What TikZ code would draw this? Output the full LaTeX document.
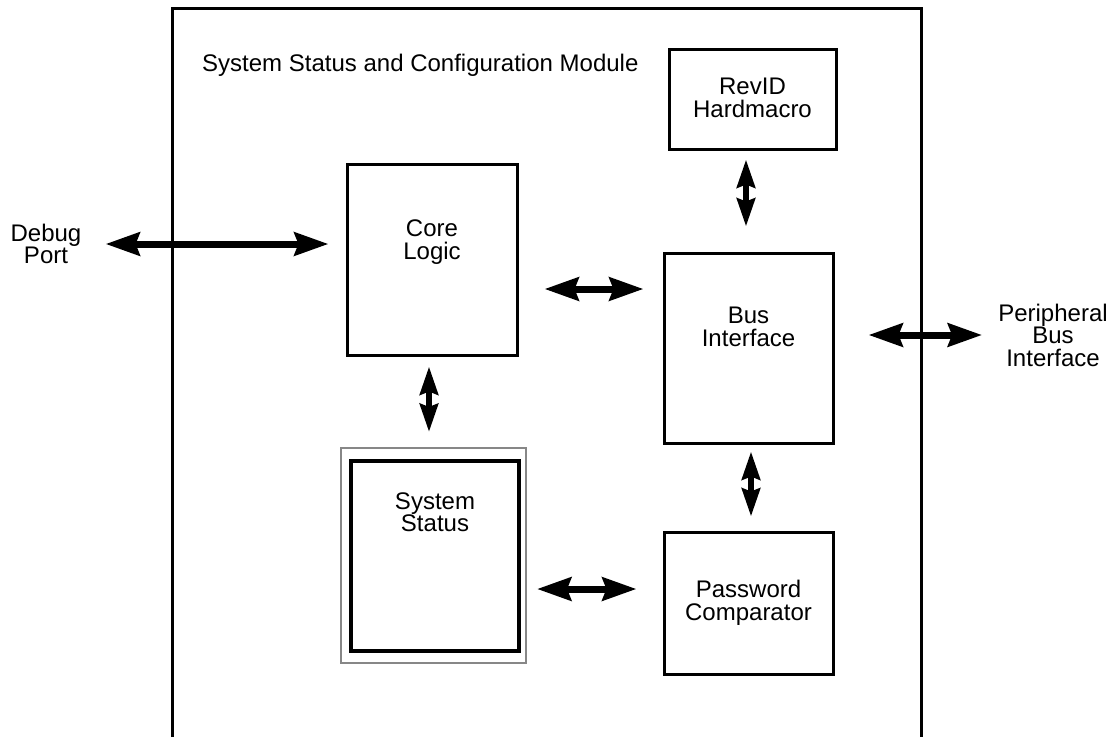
\documentclass[tikz,border=0pt]{standalone}
\usepackage{fontspec}
\setmainfont{Liberation Sans}
\usetikzlibrary{arrows.meta,calc}
\begin{document}
\begin{tikzpicture}[x=1pt,y=-1pt,
  blk/.style={draw=black,line width=3pt,rectangle,inner sep=0pt,fill=white},
  txt/.style={inner sep=0pt,align=center,font=\fontsize{24}{22.5}\selectfont},
  harrow/.style={line width=7pt,{Stealth[length=34pt,width=23pt,inset=4pt]}-{Stealth[length=34pt,width=23pt,inset=4pt]}},
  varrow/.style={line width=6pt,{Stealth[length=28pt,width=18pt,inset=3pt]}-{Stealth[length=28pt,width=18pt,inset=3pt]}}
]
\useasboundingbox (0,0) rectangle (1113,737);
% outer module frame (open at the bottom)
\draw[line width=3pt] (172,737) -- (172,8) -- (921,8) -- (921,737);
\node[txt,anchor=west] (title) at (202,65) {System Status and Configuration Module};
% blocks
\node[blk,minimum width=167pt,minimum height=100pt] (revid) at (752.5,99) {};
\node[txt] (revidt) at (752.5,98) {RevID\\Hardmacro};
\node[blk,minimum width=170pt,minimum height=191pt] (core) at (432,259.5) {};
\node[txt] (coret) at (432,242) {Core\\Logic};
\node[blk,minimum width=169pt,minimum height=190pt] (bus) at (748.5,348) {};
\node[txt] (bust) at (748.5,327) {Bus\\Interface};
\node[rectangle,draw=black!47,line width=2pt,inner sep=0pt,minimum width=185pt,minimum height=215pt] (sysout) at (433.5,555.5) {};
\node[blk,line width=4pt,minimum width=168pt,minimum height=190pt] (sys) at (435,556) {};
\node[txt] (syst) at (435,512) {System\\Status};
\node[blk,minimum width=169pt,minimum height=142pt] (pwd) at (748.5,603) {};
\node[txt] (pwdt) at (748.5,603) {Password\\Comparator};
% external labels
\node[txt] (debug) at (46,244) {Debug\\Port};
\node[txt] (periph) at (1053,335) {Peripheral\\Bus\\Interface};
% connectors
\draw[harrow] ([xshift=24pt]debug.east) -- ([shift={(-17,-15.5)}]core.west);
\draw[harrow] ([shift={(26,29.5)}]core.east) -- ([shift={(-19,-59)}]bus.west);
\draw[harrow] ([shift={(34,-13)}]bus.east) -- ([xshift=-16pt]periph.west);
\draw[harrow] ([shift={(10,33.5)}]sysout.east) -- ([shift={(-26,-14)}]pwd.west);
\draw[varrow] ([shift={(-6.5,9)}]revid.south) -- ([shift={(-2.5,-25)}]bus.north);
\draw[varrow] ([shift={(-3,10)}]core.south) -- ([shift={(-4.5,-15)}]sysout.north);
\draw[varrow] ([shift={(2.5,7)}]bus.south) -- ([shift={(2.5,-14)}]pwd.north);
\end{tikzpicture}
\end{document}
